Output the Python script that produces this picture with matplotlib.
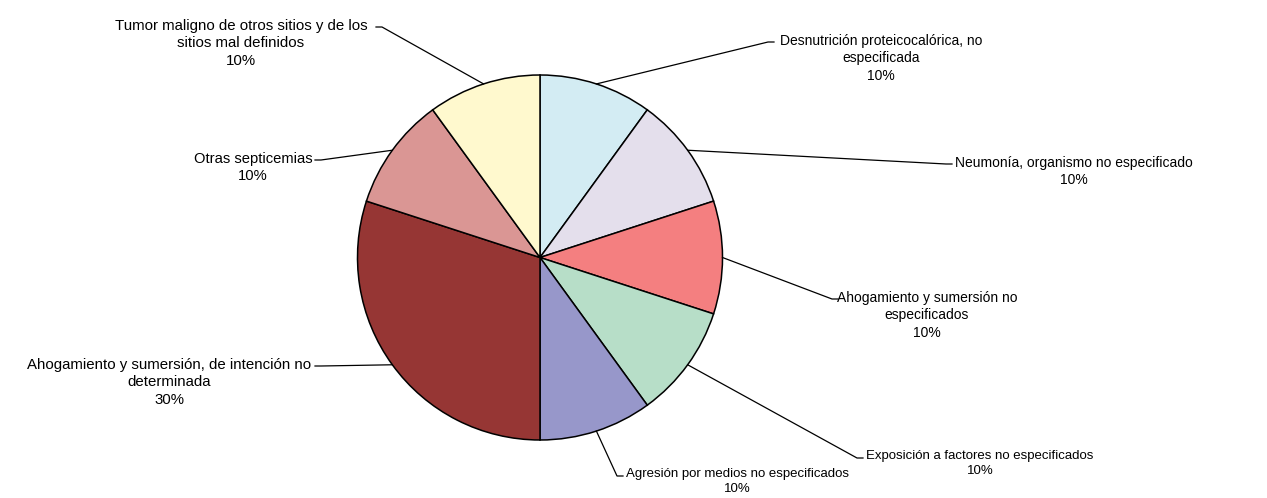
import matplotlib.pyplot as plt
import numpy as np

plt.rcParams['font.family'] = ['Liberation Sans', 'DejaVu Sans']

causas = [
    'Desnutrición proteicocalórica, no\nespecificada',
    'Neumonía, organismo no especificado',
    'Ahogamiento y sumersión no\nespecificados',
    'Exposición a factores no especificados',
    'Agresión por medios no especificados',
    'Ahogamiento y sumersión, de intención no\ndeterminada',
    'Otras septicemias',
    'Tumor maligno de otros sitios y de los\nsitios mal definidos',
]
casos = [1, 1, 1, 1, 1, 3, 1, 1]
colores = ['#D3ECF3', '#E4DFEC', '#F47F80', '#B7DEC8',
           '#9797CA', '#963634', '#DA9694', '#FFF9CE']

# layout de etiquetas en pixeles desde arriba: codo de la linea y centro del texto
codos = [(768, 42), (946, 164), (832, 299), (857, 458),
         (617, 476), (321, 366), (321, 160), (382, 27)]
lados = ['r', 'r', 'r', 'r', 'r', 'l', 'l', 'l']
centros_txt = [881, 1074, 927, 980, 737, 169, 253, 241]
tamanos = [10, 10, 10, 9.5, 9.5, 10.8, 10.6, 10.8]

W, H = 1267, 498
fig = plt.figure(figsize=(W / 100, H / 100), dpi=100)
ax = fig.add_axes([0, 0, 1, 1])

cx, cy, r = 540, H - 257.5, 182.5
wedges, _ = ax.pie(casos, colors=colores, startangle=90, counterclock=False,
                   center=(cx, cy), radius=r, frame=True,
                   wedgeprops=dict(edgecolor='black', linewidth=1.1))
ax.set_xlim(0, W)
ax.set_ylim(0, H)
ax.axis('off')

total = sum(casos)
for w, causa, v, (ex, ey), lado, tx, fs in zip(wedges, causas, casos, codos,
                                                lados, centros_txt, tamanos):
    ang = np.deg2rad((w.theta1 + w.theta2) / 2)
    px = cx + r * np.cos(ang)
    py = cy + r * np.sin(ang)
    ey = H - ey
    fin = ex + 6 if lado == 'r' else ex - 6
    ax.plot([px, ex, fin], [py, ey, ey], color='black', lw=0.9)
    ax.text(tx, ey + 8, f'{causa}\n{v / total:.0%}', ha='center', va='top',
            fontsize=fs, linespacing=1.3)

fig.savefig('out.png', dpi=100)
